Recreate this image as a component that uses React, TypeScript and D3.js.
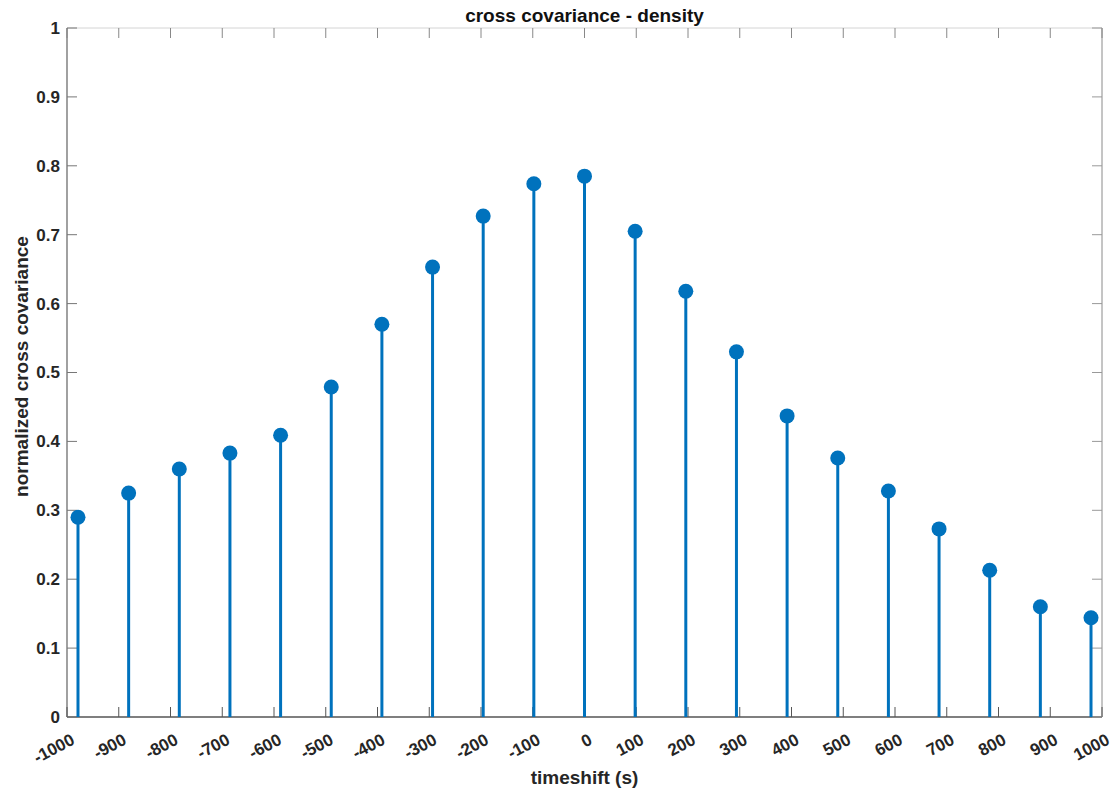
import React from 'react';
import * as d3 from 'd3';

const lags = [-1000, -900, -800, -700, -600, -500, -400, -300, -200, -100, 0, 100, 200, 300, 400, 500, 600, 700, 800, 900, 1000];
const covariance = [0.29, 0.325, 0.36, 0.383, 0.409, 0.479, 0.57, 0.653, 0.727, 0.774, 0.785, 0.705, 0.618, 0.53, 0.437, 0.376, 0.328, 0.273, 0.213, 0.16, 0.144];
const xTickLabels = ['-1000', '-900', '-800', '-700', '-600', '-500', '-400', '-300', '-200', '-100', '0', '100', '200', '300', '400', '500', '600', '700', '800', '900', '1000'];
const yTicks = [0, 0.1, 0.2, 0.3, 0.4, 0.5, 0.6, 0.7, 0.8, 0.9, 1];
const yTickLabels = ['0', '0.1', '0.2', '0.3', '0.4', '0.5', '0.6', '0.7', '0.8', '0.9', '1'];

const W = 1112;
const H = 792;
const left = 67;
const right = 1102;
const top = 28;
const bottom = 717;
const blue = '#0072BD';
const textColor = '#262626';
const font = '"Liberation Sans", Arial, sans-serif';

const App = () => {
  // stems sit a bit inside the box; ticks + their labels are spread evenly over the full width
  const x = d3.scaleLinear().domain([-1021.7, 1021.7]).range([left, right]);
  const y = d3.scaleLinear().domain([0, 1]).range([bottom, top]);
  const xt = d3.scalePoint<string>().domain(xTickLabels).range([left, right]);

  return (
    <svg width={W} height={H} style={{ position: 'absolute', left: 0, top: 0, background: '#fff' }}>
      {/* box */}
      <line x1={left} x2={right} y1={top} y2={top} stroke="#d4d4d4" strokeWidth={1} />
      <line x1={right} x2={right} y1={top} y2={bottom} stroke="#8a8a8a" strokeWidth={1} />
      <line x1={left} x2={left} y1={top} y2={bottom} stroke="#6e6e6e" strokeWidth={1.3} />
      <line x1={left} x2={right} y1={bottom} y2={bottom} stroke="#555" strokeWidth={1.3} />

      {/* x ticks */}
      {xTickLabels.map((lab, i) => {
        const t = xt(lab) as number;
        return (
          <g key={'xt' + i}>
            <line x1={t} x2={t} y1={bottom} y2={bottom - 10} stroke="#555" strokeWidth={1} />
            <line x1={t} x2={t} y1={top} y2={top + 10} stroke="#888" strokeWidth={1} />
            <text
              transform={`translate(${t + 6},${bottom + 21}) rotate(-28)`}
              textAnchor="end"
              dy="0.35em"
              fontFamily={font}
              fontWeight="bold"
              fontSize={17}
              fill={textColor}
            >
              {lab}
            </text>
          </g>
        );
      })}

      {/* y ticks */}
      {yTicks.map((v, i) => (
        <g key={'yt' + i}>
          <line x1={left} x2={left + 10} y1={y(v)} y2={y(v)} stroke="#777" strokeWidth={1} />
          <line x1={right} x2={right - 10} y1={y(v)} y2={y(v)} stroke="#999" strokeWidth={1} />
          <text x={left - 7} y={y(v)} dy="0.35em" textAnchor="end" fontFamily={font} fontWeight="bold" fontSize={17} fill={textColor}>
            {yTickLabels[i]}
          </text>
        </g>
      ))}

      {/* stems */}
      {lags.map((v, i) => (
        <g key={'s' + i}>
          <line x1={x(v)} x2={x(v)} y1={y(0)} y2={y(covariance[i])} stroke={blue} strokeWidth={3} />
          <circle cx={x(v)} cy={y(covariance[i])} r={7.5} fill={blue} />
        </g>
      ))}

      <text x={(left + right) / 2} y={22} textAnchor="middle" fontFamily={font} fontWeight="bold" fontSize={19} fill="#111">
        cross covariance - density
      </text>
      <text x={(left + right) / 2} y={784} textAnchor="middle" fontFamily={font} fontWeight="bold" fontSize={19} fill={textColor}>
        timeshift (s)
      </text>
      <text transform={`translate(28,${(top + bottom) / 2 - 6}) rotate(-90)`} textAnchor="middle" fontFamily={font} fontWeight="bold" fontSize={19} fill={textColor}>
        normalized cross covariance
      </text>
    </svg>
  );
};

export default App;
